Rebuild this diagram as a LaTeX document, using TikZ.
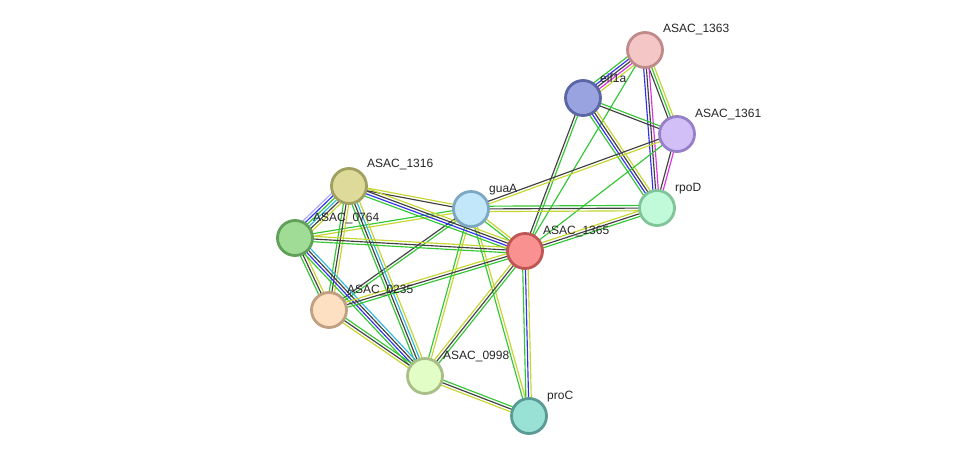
\documentclass[tikz,border=0pt]{standalone}
\usepackage{fontspec}
\setmainfont{Liberation Sans}
\usetikzlibrary{calc}
\pgfdeclarelayer{bg}
\pgfsetlayers{bg,main}
\definecolor{gC}{HTML}{33C733}
\definecolor{bC}{HTML}{3030F0}
\definecolor{kC}{HTML}{404040}
\definecolor{mC}{HTML}{E030E0}
\definecolor{cC}{HTML}{30B8E0}
\definecolor{yC}{HTML}{C6D630}
\definecolor{lC}{HTML}{A8A8FF}
\newcommand{\bund}[3]{%
  \foreach \c [count=\i] in {#3} {\xdef\bundn{\i}}%
  \foreach \c [count=\i] in {#3} {%
    \pgfmathsetmacro\off{(\i-(\bundn+1)/2)*2.7}%
    \draw[draw=\c, line width=1.15pt] ($(#1.center)!\off pt!90:(#2.center)$) -- ($(#2.center)!\off pt!-90:(#1.center)$);
  }}
\begin{document}
\begin{tikzpicture}[x=1pt,y=-1pt,
  prot/.style={circle,draw,line width=2.8pt,minimum size=35pt,inner sep=0pt},
  lab/.style={anchor=west,font=\fontsize{12}{14}\selectfont,inner sep=0pt,text=black!85}]
\useasboundingbox (0,0) rectangle (976,462);
\begin{pgfonlayer}{bg}
\fill[white] (0,0) rectangle (976,462);
\end{pgfonlayer}
\node[prot,fill={rgb,255:red,245;green,198;blue,198},draw={rgb,255:red,192;green,138;blue,138}] (n1363) at (645,50) {};
\node[prot,fill={rgb,255:red,153;green,163;blue,224},draw={rgb,255:red,90;green,102;blue,165}] (eif) at (583,98) {};
\node[prot,fill={rgb,255:red,210;green,191;blue,248},draw={rgb,255:red,151;green,128;blue,200}] (n1361) at (677,134) {};
\node[prot,fill={rgb,255:red,193;green,250;blue,216},draw={rgb,255:red,128;green,196;blue,154}] (rpoD) at (657,208) {};
\node[prot,fill={rgb,255:red,194;green,231;blue,250},draw={rgb,255:red,125;green,168;blue,196}] (guaA) at (471,209) {};
\node[prot,fill={rgb,255:red,250;green,145;blue,145},draw={rgb,255:red,192;green,85;blue,85}] (n1365) at (525,251) {};
\node[prot,fill={rgb,255:red,222;green,219;blue,154},draw={rgb,255:red,160;green,160;blue,96}] (n1316) at (349,186) {};
\node[prot,fill={rgb,255:red,160;green,220;blue,150},draw={rgb,255:red,96;green,160;blue,88}] (n0764) at (295,238) {};
\node[prot,fill={rgb,255:red,253;green,223;blue,194},draw={rgb,255:red,192;green,160;blue,128}] (n0235) at (329,310) {};
\node[prot,fill={rgb,255:red,226;green,253;blue,197},draw={rgb,255:red,168;green,192;blue,136}] (n0998) at (425,376) {};
\node[prot,fill={rgb,255:red,153;green,224;blue,213},draw={rgb,255:red,90;green,156;blue,149}] (proC) at (529,416) {};
\node[lab] (l1363) at ($(n1363)+(18,-20)$) {ASAC\_1363};
\node[lab] (leif) at ($(eif)+(17,-20)$) {eif1a};
\node[lab] (l1361) at ($(n1361)+(18,-19)$) {ASAC\_1361};
\node[lab] (lrpoD) at ($(rpoD)+(18,-19)$) {rpoD};
\node[lab] (lguaA) at ($(guaA)+(18,-19)$) {guaA};
\node[lab] (l1365) at ($(n1365)+(18,-19)$) {ASAC\_1365};
\node[lab] (l1316) at ($(n1316)+(18,-21)$) {ASAC\_1316};
\node[lab] (l0764) at ($(n0764)+(18,-19)$) {ASAC\_0764};
\node[lab] (l0235) at ($(n0235)+(18,-19)$) {ASAC\_0235};
\node[lab] (l0998) at ($(n0998)+(18,-19)$) {ASAC\_0998};
\node[lab] (lproC) at ($(proC)+(18,-19)$) {proC};
\begin{pgfonlayer}{bg}
\bund{n1363}{eif}{gC,bC,kC,mC,yC}
\bund{n1363}{n1361}{kC,gC,yC}
\bund{n1363}{rpoD}{bC,kC,mC}
\bund{n1363}{n1365}{gC}
\bund{eif}{n1361}{kC,gC}
\bund{eif}{rpoD}{gC,bC,kC,yC}
\bund{eif}{n1365}{kC,gC}
\bund{n1361}{rpoD}{kC,mC}
\bund{n1361}{guaA}{kC,yC}
\bund{n1361}{n1365}{gC}
\bund{rpoD}{guaA}{gC,kC,yC}
\bund{rpoD}{n1365}{yC,kC,gC}
\bund{guaA}{n1365}{gC,yC}
\bund{guaA}{n1316}{yC,kC}
\bund{guaA}{n0764}{gC,yC}
\bund{guaA}{n0235}{kC,gC}
\bund{guaA}{n0998}{gC,yC}
\bund{guaA}{proC}{gC,yC}
\bund{n1316}{n1365}{gC,bC,kC,yC}
\bund{n1316}{n0764}{lC,bC,gC,cC,kC,yC}
\bund{n1316}{n0235}{gC,kC,yC}
\bund{n1316}{n0998}{gC,kC,cC,yC}
\bund{n0764}{n1365}{gC,kC,yC}
\bund{n0764}{n0235}{gC,kC,yC}
\bund{n0764}{n0998}{gC,bC,kC,cC}
\bund{n0235}{n1365}{gC,kC,yC}
\bund{n0235}{n0998}{yC,kC,gC}
\bund{n0998}{n1365}{gC,kC,yC}
\bund{n0998}{proC}{yC,kC,gC}
\bund{n1365}{proC}{gC,bC,yC}
\end{pgfonlayer}
\end{tikzpicture}
\end{document}
